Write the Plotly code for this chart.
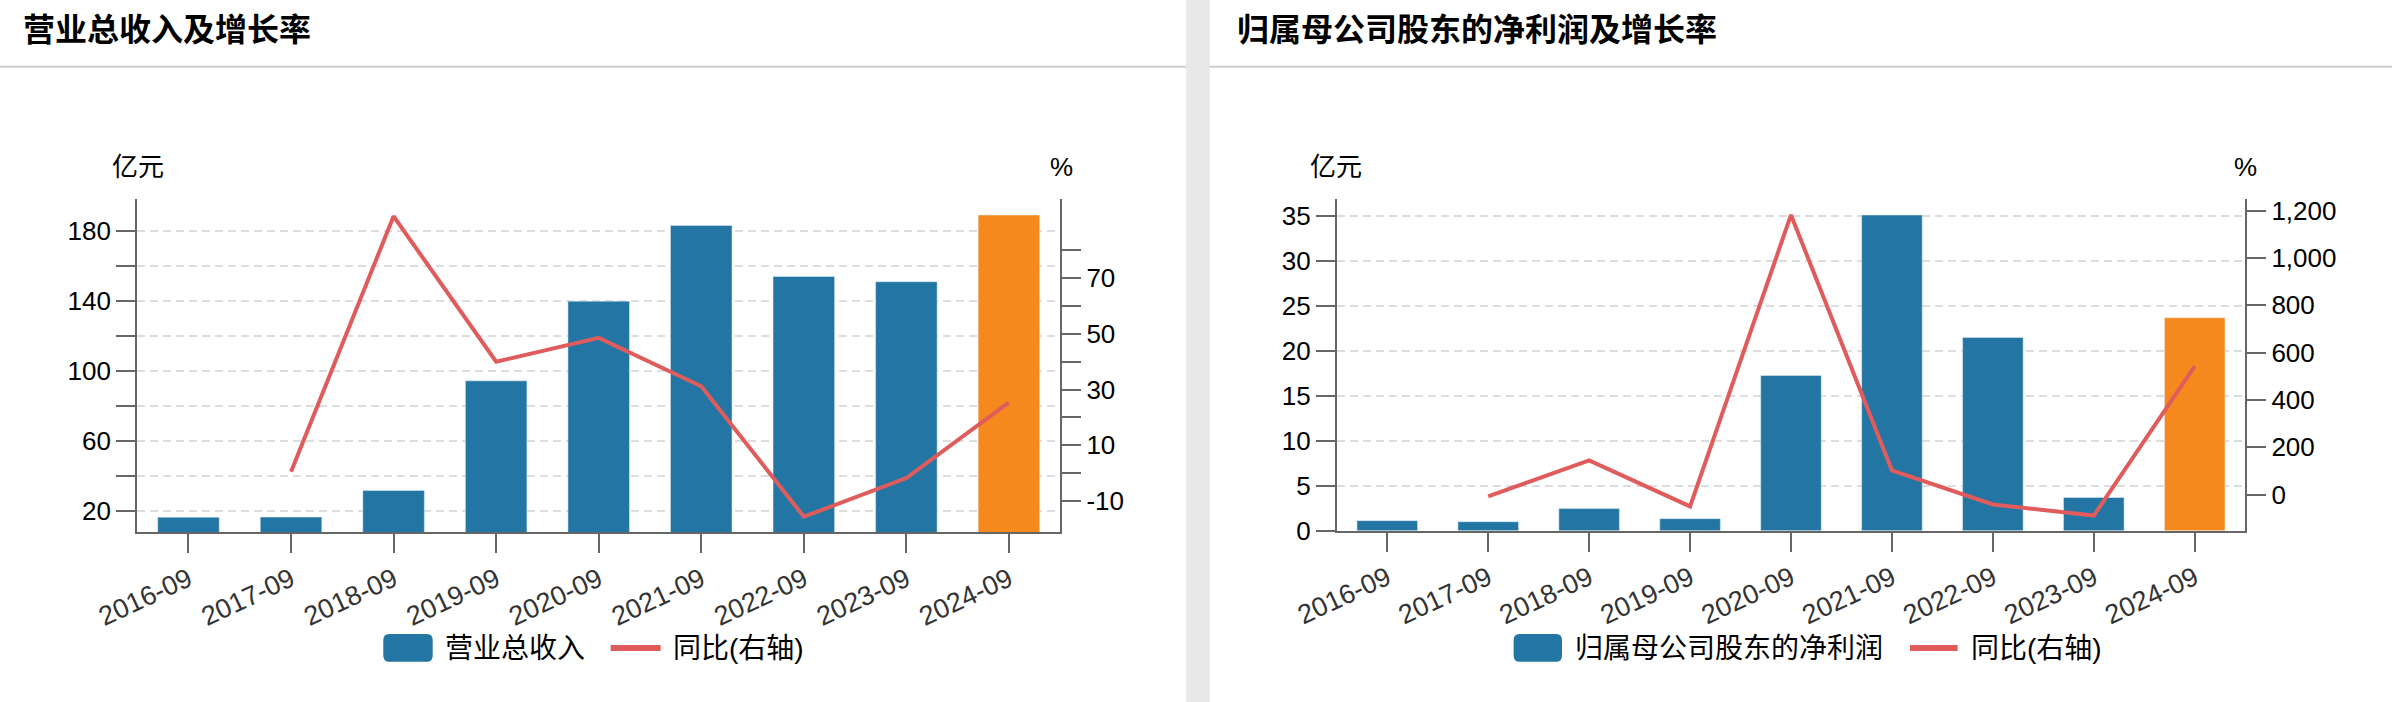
import plotly.graph_objects as go

W, H = 2392, 702

periods = ["2016-09", "2017-09", "2018-09", "2019-09", "2020-09",
           "2021-09", "2022-09", "2023-09", "2024-09"]

# 营业总收入 (亿元) and yoy (%)
revenue = [16.4, 16.5, 31.7, 94.3, 139.8, 183.1, 153.9, 150.9, 189.0]
revenue_yoy = [None, 0.5, 92.3, 40.0, 48.6, 31.2, -15.7, -1.8, 25.4]

# 归属母公司股东的净利润 (亿元) and yoy (%)
profit = [1.12, 1.0, 2.46, 1.34, 17.28, 35.15, 21.52, 3.69, 23.72]
profit_yoy = [None, -7, 145, -49.5, 1182, 103, -41, -88, 543]

left_ticks = [20, 40, 60, 80, 100, 120, 140, 160, 180]
left_ticktext = ["20", "", "60", "", "100", "", "140", "", "180"]
left_pct_ticks = [-10, 0, 10, 20, 30, 40, 50, 60, 70, 80]
left_pct_ticktext = ["-10", "", "10", "", "30", "", "50", "", "70", ""]
right_ticks = [0, 5, 10, 15, 20, 25, 30, 35]
right_pct_ticks = [0, 200, 400, 600, 800, 1000, 1200]

BLUE = "#2376a3"
ORANGE = "#f5891e"
RED = "#e05c5c"
AXIS = "#666666"
GRID = "#dddddd"
FONT = "Liberation Sans, Noto Sans CJK SC, sans-serif"

bar_colors = [BLUE] * (len(periods) - 1) + [ORANGE]


def px(x):
    return x / W


def py(y):
    return 1 - y / H


fig = go.Figure()

fig.add_trace(go.Bar(x=periods, y=revenue, marker_color=bar_colors, width=0.6,
                     xaxis="x", yaxis="y", showlegend=False))
fig.add_trace(go.Scatter(x=periods, y=revenue_yoy, mode="lines",
                         line=dict(color=RED, width=4),
                         xaxis="x", yaxis="y2", showlegend=False))
fig.add_trace(go.Bar(x=periods, y=profit, marker_color=bar_colors, width=0.6,
                     xaxis="x2", yaxis="y3", showlegend=False))
fig.add_trace(go.Scatter(x=periods, y=profit_yoy, mode="lines",
                         line=dict(color=RED, width=4),
                         xaxis="x2", yaxis="y4", showlegend=False))

axis_common = dict(showline=True, linecolor=AXIS, linewidth=2,
                   ticks="outside", ticklen=19, tickwidth=2, tickcolor=AXIS,
                   zeroline=False, automargin=False,
                   tickfont=dict(size=26, color="#000"))

x_common = dict(axis_common, type="category", range=[-0.5, 8.5],
                tickangle=-25, showgrid=False,
                tickfont=dict(size=27, color="#333"))

fig.update_layout(
    width=W, height=H,
    margin=dict(l=0, r=0, t=0, b=0, pad=0, autoexpand=False),
    paper_bgcolor="white", plot_bgcolor="white",
    font=dict(family=FONT, color="#000"),
    bargap=0.4,
    xaxis=dict(x_common, domain=[px(137.2), px(1060.2)], anchor="y"),
    yaxis=dict(axis_common, domain=[py(532.3), py(199.3)], anchor="x",
               range=[7.8, 198], tickvals=left_ticks, ticktext=left_ticktext,
               showgrid=True, gridcolor=GRID, gridwidth=2, griddash="8px,5px"),
    yaxis2=dict(axis_common, overlaying="y", side="right", anchor="x",
                range=[-21.3, 98.4], tickvals=left_pct_ticks,
                ticktext=left_pct_ticktext, showgrid=False),
    xaxis2=dict(x_common, domain=[px(1336.8), px(2245.2)], anchor="y3"),
    yaxis3=dict(axis_common, domain=[py(530.7), py(199.3)], anchor="x2",
                range=[0, 36.9], tickvals=right_ticks,
                showgrid=True, gridcolor=GRID, gridwidth=2, griddash="8px,5px"),
    yaxis4=dict(axis_common, overlaying="y3", side="right", anchor="x2",
                range=[-152, 1248], tickvals=right_pct_ticks, tickformat=",",
                showgrid=False),
)

shapes = []
# gray strip between the two panels and header separators
shapes.append(dict(type="rect", xref="paper", yref="paper",
                   x0=px(1186), x1=px(1210), y0=0, y1=1,
                   fillcolor="#e8e8e8", line_width=0, layer="below"))
shapes.append(dict(type="line", xref="paper", yref="paper",
                   x0=0, x1=px(1186), y0=py(66.7), y1=py(66.7),
                   line=dict(color="#cccccc", width=2)))
shapes.append(dict(type="line", xref="paper", yref="paper",
                   x0=px(1210), x1=1, y0=py(66.7), y1=py(66.7),
                   line=dict(color="#cccccc", width=2)))


def rounded_box(x0, y0, x1, y1, r):
    # pixel coords in, paper-coord path out
    rx, ry = r / W, r / H
    a, b, c, d = px(x0), px(x1), py(y1), py(y0)
    return (f"M{a + rx},{c} L{b - rx},{c} Q{b},{c} {b},{c + ry} "
            f"L{b},{d - ry} Q{b},{d} {b - rx},{d} L{a + rx},{d} "
            f"Q{a},{d} {a},{d - ry} L{a},{c + ry} Q{a},{c} {a + rx},{c} Z")


annotations = []

# custom legends: (swatch x0, swatch x1, label x, line x0, line x1, label2 x, label)
legends = [
    (383.3, 432.7, 443, 610.7, 660.7, 671, "营业总收入"),
    (1513.6, 1562.0, 1573, 1910.0, 1957.6, 1969, "归属母公司股东的净利润"),
]
for sx0, sx1, tx, lx0, lx1, tx2, label in legends:
    shapes.append(dict(type="path", xref="paper", yref="paper",
                       path=rounded_box(sx0, 634, sx1, 661.7, 6),
                       fillcolor=BLUE, line_width=0))
    shapes.append(dict(type="line", xref="paper", yref="paper",
                       x0=px(lx0), x1=px(lx1), y0=py(648), y1=py(648),
                       line=dict(color=RED, width=6)))
    annotations.append(dict(text=label, x=px(tx), y=py(648), xref="paper",
                            yref="paper", xanchor="left", yanchor="middle",
                            showarrow=False, font=dict(size=28, color="#000")))
    annotations.append(dict(text="同比(右轴)", x=px(tx2), y=py(648), xref="paper",
                            yref="paper", xanchor="left", yanchor="middle",
                            showarrow=False, font=dict(size=28, color="#000")))

# panel titles
for tx, title in [(21, "营业总收入及增长率"), (1235, "归属母公司股东的净利润及增长率")]:
    annotations.append(dict(text="<b>" + title + "</b>", x=px(tx), y=py(30),
                            xref="paper", yref="paper", xanchor="left",
                            yanchor="middle", showarrow=False,
                            font=dict(size=32, color="#000")))

# axis unit labels
for ux, unit in [(138, "亿元"), (1061, "%"), (1336, "亿元"), (2245, "%")]:
    annotations.append(dict(text=unit, x=px(ux), y=py(166.5), xref="paper",
                            yref="paper", xanchor="center", yanchor="middle",
                            showarrow=False, font=dict(size=26, color="#000")))

fig.update_layout(shapes=shapes, annotations=annotations)

fig.write_html("out.html", config={"displayModeBar": False},
               post_script="document.body.style.margin = '0px';")
